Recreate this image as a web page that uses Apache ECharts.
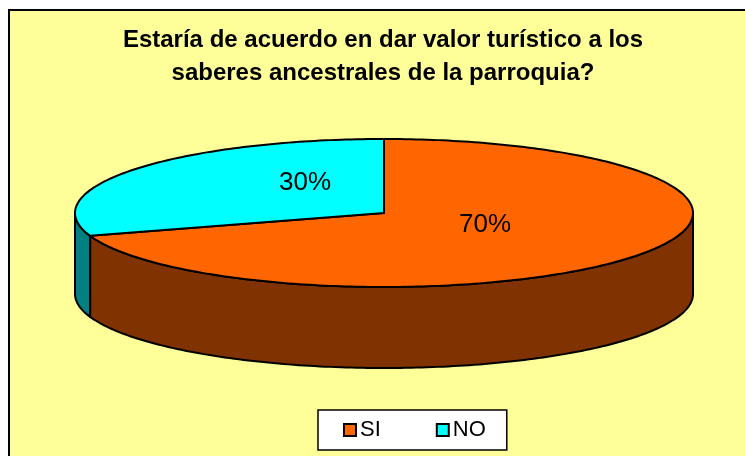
<!DOCTYPE html>
<html>
<head>
<meta charset="utf-8">
<script src="https://cdn.jsdelivr.net/npm/echarts@6/dist/echarts.min.js"></script>
<style>
  html, body { margin: 0; padding: 0; background: #fff; }
  #chart { width: 745px; height: 456px; }
</style>
</head>
<body>
<div id="chart"></div>
<script>
// data
const categories = ['SI', 'NO']
const values = [70, 30]

// palette (top face / side wall)
const topColors = ['#FF6600', '#00FFFF']
const sideColors = ['#803300', '#008080']

// pie geometry in pixels
const cx = 384
const cy = 213
const rx = 309
const ry = 74
const depth = 81

const total = values.reduce((a, b) => a + b, 0)
const starts = values.map((v, i) => values.slice(0, i).reduce((a, b) => a + b, 0))

function pt(deg, dy) {
  const r = deg * Math.PI / 180
  return [cx + rx * Math.cos(r), cy - ry * Math.sin(r) + (dy || 0)]
}

function renderSlice(params, api) {
  const i = params.seriesIndex
  const value = api.value(0)
  const start = api.value(1)
  // start at 12 o'clock, go clockwise
  const a0 = 90 - start / total * 360
  const a1 = 90 - (start + value) / total * 360
  const children = []

  // visible side wall: lower half of the ellipse
  for (let k = -1; k <= 1; k++) {
    const lo = k * 360 - 180
    const hi = k * 360
    const s = Math.max(a1, lo)
    const e = Math.min(a0, hi)
    if (e <= s) continue
    const pts = []
    for (let a = e; a > s; a -= 1) pts.push(pt(a))
    pts.push(pt(s))
    for (let a = s; a < e; a += 1) pts.push(pt(a, depth))
    pts.push(pt(e, depth))
    children.push({
      type: 'polygon',
      z2: 1,
      shape: { points: pts },
      style: { fill: sideColors[i], stroke: '#000', lineWidth: 2, lineJoin: 'round' }
    })
  }

  // top face
  const top = [[cx, cy]]
  for (let a = a0; a > a1; a -= 1) top.push(pt(a))
  top.push(pt(a1))
  children.push({
    type: 'polygon',
    z2: 10,
    shape: { points: top },
    style: { fill: topColors[i], stroke: '#000', lineWidth: 2, lineJoin: 'round' }
  })

  // percentage label, nudged the way excel places 3d labels
  const mid = (a0 + a1) / 2 * Math.PI / 180
  children.push({
    type: 'text',
    z2: 20,
    x: cx + 11 + rx * 0.36 * Math.cos(mid),
    y: cy - 9 - ry * 0.48 * Math.sin(mid),
    style: {
      text: Math.round(value / total * 100) + '%',
      fontSize: 26,
      fontFamily: 'Liberation Sans, Arial, sans-serif',
      fill: '#000',
      align: 'center',
      verticalAlign: 'middle'
    }
  })

  return { type: 'group', children: children }
}

const chart = echarts.init(document.getElementById('chart'))

chart.setOption({
  animation: false,
  backgroundColor: '#fff',
  graphic: [
    {
      type: 'rect',
      z: -10,
      shape: { x: 9, y: 10, width: 800, height: 500 },
      style: { fill: '#FFFF99', stroke: '#000', lineWidth: 2 }
    }
  ],
  title: {
    text: 'Estaría de acuerdo en dar valor turístico a los\nsaberes ancestrales de la parroquia?',
    left: 383,
    top: 24,
    padding: 0,
    textAlign: 'center',
    textStyle: {
      fontFamily: 'Liberation Sans, Arial, sans-serif',
      fontSize: 24,
      fontWeight: 'bold',
      color: '#000',
      lineHeight: 33
    }
  },
  legend: {
    data: categories,
    left: 318,
    top: 410,
    orient: 'horizontal',
    icon: 'rect',
    itemWidth: 12,
    itemHeight: 12,
    itemGap: 55,
    padding: [9, 21, 9, 25],
    backgroundColor: '#fff',
    borderColor: '#000',
    borderWidth: 1.5,
    borderRadius: 0,
    selectedMode: false,
    textStyle: {
      fontFamily: 'Liberation Sans, Arial, sans-serif',
      fontSize: 22,
      color: '#000',
      padding: [0, 0, 0, -1]
    }
  },
  series: categories.map((name, i) => ({
    name: name,
    type: 'custom',
    coordinateSystem: 'none',
    silent: true,
    itemStyle: { color: topColors[i], borderColor: '#000', borderWidth: 1 },
    renderItem: renderSlice,
    data: [[values[i], starts[i]]]
  }))
})
</script>
</body>
</html>
